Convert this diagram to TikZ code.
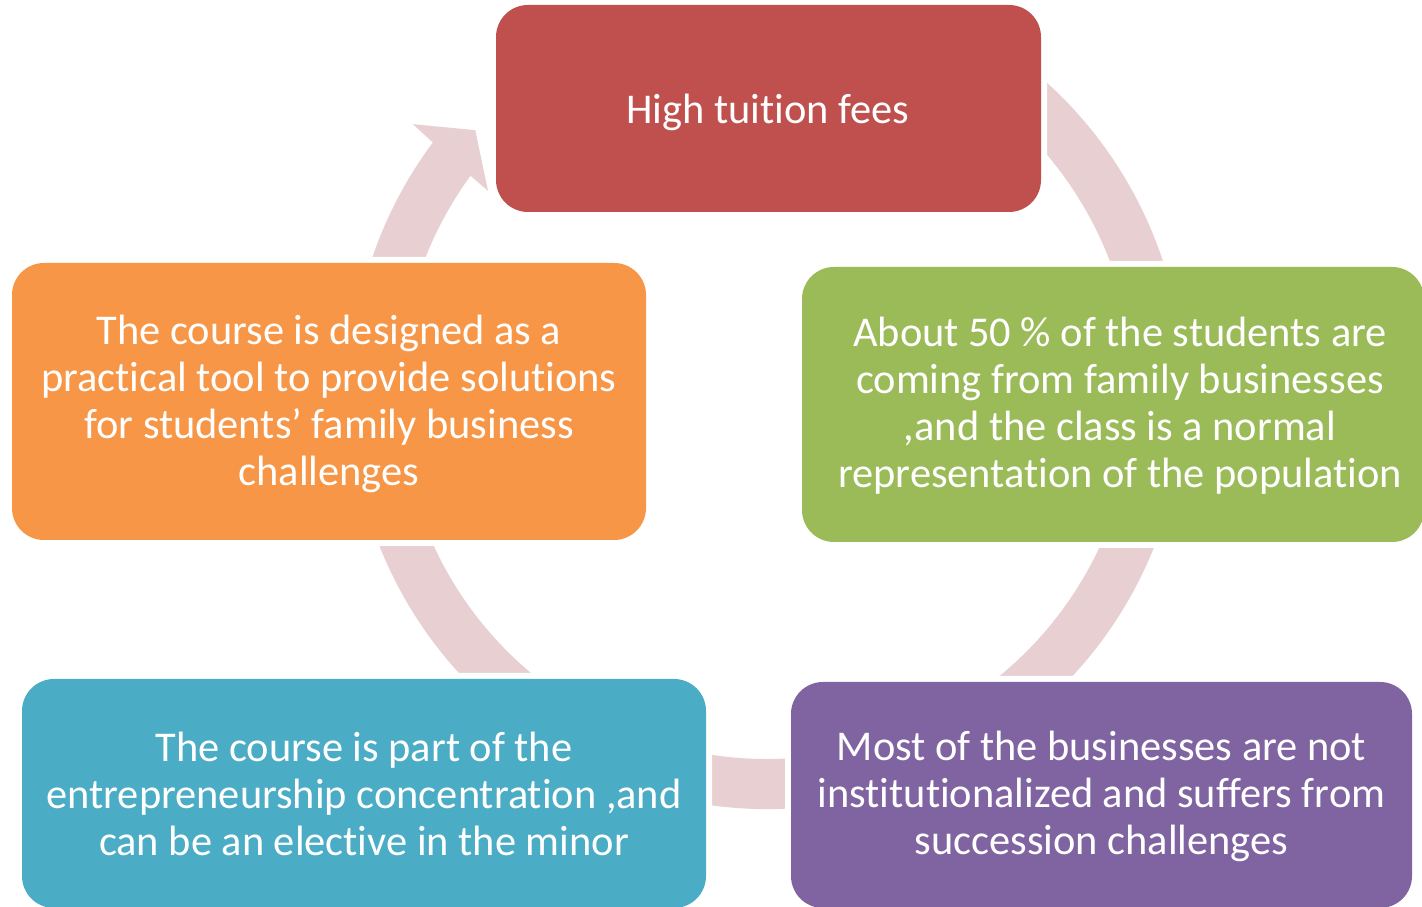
\documentclass[tikz,border=0pt]{standalone}
\usepackage{fontspec}
\setmainfont{Carlito}[Ligatures=NoCommon]
\definecolor{ringc}{HTML}{E8CFD1}
\definecolor{cred}{HTML}{C0504D}
\definecolor{cgreen}{HTML}{9BBB59}
\definecolor{cpurple}{HTML}{8064A2}
\definecolor{cblue}{HTML}{4BACC6}
\definecolor{corange}{HTML}{F79646}
\begin{document}
\begin{tikzpicture}[x=1pt,y=1pt,
  box/.style={rounded corners=32pt, inner sep=0pt,
    preaction={draw=white, line width=12pt}},
  boxtext/.style={inner sep=0pt, text=white, align=center, font=\fontsize{42.4}{47}\selectfont}
]
\useasboundingbox (0,0) rectangle (1422,907);
\fill[white] (0,0) rectangle (1422,907);
% ring with arrow head
\begin{scope}[shift={(767,515)}]
\fill[ringc] (70:417) arc[start angle=70, end angle=-216.75, radius=417]
  -- (142.9:444) -- (138.1:392) -- (144.2:344) -- (143.9:367)
  arc[start angle=-216.1, end angle=70, radius=367] -- cycle;
\end{scope}
% boxes
\node[box, fill=cred, minimum width=545pt, minimum height=207pt] (top) at (768.5,798.5) {};
\node[box, fill=cgreen, minimum width=622pt, minimum height=275pt] (green) at (1113,502.5) {};
\node[box, fill=cpurple, minimum width=621pt, minimum height=226pt] (purple) at (1101.5,112) {};
\node[box, fill=cblue, minimum width=684pt, minimum height=229pt] (blue) at (364,113.5) {};
\node[box, fill=corange, minimum width=634pt, minimum height=277pt] (orange) at (329,505.5) {};
% texts
\node[boxtext] (toptext) at (768,795) {High tuition fees};
\node[boxtext] (greentext) at (1120,501) {About 50 \% of the students are\\coming from family businesses\\,and the class is a normal\\representation of the population};
\node[boxtext] (purpletext) at (1101.5,111) {Most of the businesses are not\\institutionalized and suffers from\\succession challenges};
\node[boxtext] (bluetext) at (364,113.5) {The course is part of the\\entrepreneurship concentration ,and\\can be an elective in the minor};
\node[boxtext] (orangetext) at (329,503.5) {The course is designed as a\\practical tool to provide solutions\\for students’ family business\\challenges};
\end{tikzpicture}
\end{document}
